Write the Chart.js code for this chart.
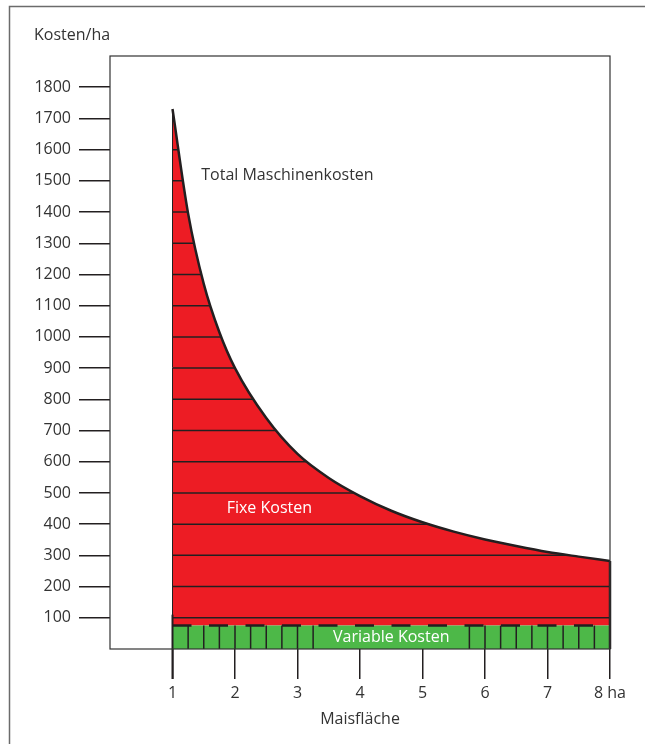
<!DOCTYPE html>
<html>
<head>
<meta charset="utf-8">
<script src="https://cdn.jsdelivr.net/npm/chart.js@4"></script>
<style>
  html, body { margin: 0; padding: 0; background: #fff; }
  #wrap { width: 645px; height: 744px; }
</style>
</head>
<body>
<div id="wrap"><canvas id="costChart" width="645" height="744"></canvas></div>
<script>
// Maisfläche (ha) and total machine costs per ha
const areaHa = [1, 1.25, 1.5, 1.75, 2, 2.5, 3, 3.5, 4, 4.5, 5, 5.5, 6, 6.5, 7, 7.5, 8];
const totalCosts = [1730, 1395, 1170, 1015, 900, 740, 625, 548, 490, 443, 406, 376, 351, 330, 311, 296, 282];

// variable costs band
const variableHa = [1, 8];
const variableCosts = [75, 75];

// axis ticks
const xTickValues = [1, 2, 3, 4, 5, 6, 7, 8];
const xTickLabels = ['1', '2', '3', '4', '5', '6', '7', '8 ha'];
const yTickValues = [100, 200, 300, 400, 500, 600, 700, 800, 900, 1000, 1100, 1200, 1300, 1400, 1500, 1600, 1700, 1800];

const red = '#ed1c24';
const green = '#4db848';
const ink = '#231f20';
const textColor = '#333333';
const fontFamily = '"Open Sans", sans-serif';

document.addEventListener('DOMContentLoaded', function() {

    const decorPlugin = {
        id: 'decor',
        afterDatasetsDraw(chart) {
            const { ctx, chartArea, scales: { x, y } } = chart;
            const xStart = x.getPixelForValue(areaHa[0]);
            const xEnd = x.getPixelForValue(areaHa[areaHa.length - 1]);

            // horizontal lines only where the red area is painted
            ctx.save();
            ctx.globalCompositeOperation = 'source-atop';
            ctx.strokeStyle = ink;
            ctx.lineWidth = 1.5;
            yTickValues.forEach(v => {
                if (v <= variableCosts[0] || v >= totalCosts[0]) return;
                const py = y.getPixelForValue(v);
                ctx.beginPath();
                ctx.moveTo(xStart, py);
                ctx.lineTo(xEnd, py);
                ctx.stroke();
            });
            ctx.restore();

            ctx.save();
            ctx.strokeStyle = ink;

            // left edge of the red area
            ctx.lineWidth = 1;
            ctx.beginPath();
            ctx.moveTo(xStart, y.getPixelForValue(totalCosts[0]));
            ctx.lineTo(xStart, y.getPixelForValue(variableCosts[0]));
            ctx.stroke();

            // tick at 1 reaches into the area
            ctx.lineWidth = 2;
            ctx.beginPath();
            ctx.moveTo(xStart, y.getPixelForValue(110));
            ctx.lineTo(xStart, chartArea.bottom + 30);
            ctx.stroke();

            // right edge of the red area
            ctx.lineWidth = 2.5;
            ctx.beginPath();
            ctx.moveTo(xEnd, y.getPixelForValue(totalCosts[totalCosts.length - 1]));
            ctx.lineTo(xEnd, y.getPixelForValue(0));
            ctx.stroke();

            // dividers in the green band
            ctx.lineWidth = 1.5;
            const y0 = y.getPixelForValue(0);
            const y1 = y.getPixelForValue(variableCosts[0]);
            for (let v = 1.25; v < 8; v += 0.25) {
                if (v > 3.25 && v < 5.75) continue;
                const px = x.getPixelForValue(v);
                ctx.beginPath();
                ctx.moveTo(px, y0);
                ctx.lineTo(px, y1);
                ctx.stroke();
            }

            // labels
            ctx.font = '16px ' + fontFamily;
            ctx.textBaseline = 'middle';
            ctx.textAlign = 'center';
            ctx.fillStyle = '#ffffff';
            ctx.fillText('Variable Kosten', x.getPixelForValue(4.5), y.getPixelForValue(37));
            ctx.fillText('Fixe Kosten', x.getPixelForValue(2.55), y.getPixelForValue(450));

            ctx.fillStyle = textColor;
            ctx.textAlign = 'left';
            ctx.fillText('Total Maschinenkosten', x.getPixelForValue(1.46), y.getPixelForValue(1517));
            ctx.fillText('Kosten/ha', chartArea.left - 76, chartArea.top - 21);
            ctx.restore();
        },
        afterDraw(chart) {
            const { ctx, chartArea } = chart;
            ctx.save();
            // plot box
            ctx.strokeStyle = '#333333';
            ctx.lineWidth = 1.2;
            ctx.strokeRect(chartArea.left, chartArea.top, chartArea.right - chartArea.left, chartArea.bottom - chartArea.top);
            // outer frame (only top and left visible)
            ctx.strokeStyle = '#6b6b6b';
            ctx.lineWidth = 1.5;
            ctx.strokeRect(9.5, 6.5, 1000, 1000);
            ctx.restore();
        }
    };

    const ctx = document.getElementById('costChart').getContext('2d');

    const costChart = new Chart(ctx, {
        type: 'line',
        data: {
            datasets: [
                {
                    label: 'Variable Kosten',
                    data: variableHa.map((h, i) => ({ x: h, y: variableCosts[i] })),
                    backgroundColor: green,
                    borderColor: ink,
                    borderWidth: 2.5,
                    borderDash: [19, 17.5],
                    pointRadius: 0,
                    fill: 'origin'
                },
                {
                    label: 'Total Maschinenkosten',
                    data: areaHa.map((h, i) => ({ x: h, y: totalCosts[i] })),
                    backgroundColor: red,
                    borderColor: ink,
                    borderWidth: 2.5,
                    cubicInterpolationMode: 'monotone',
                    pointRadius: 0,
                    fill: { value: variableCosts[0] }
                }
            ]
        },
        options: {
            responsive: false,
            animation: false,
            layout: {
                padding: { left: 0, top: 56, right: 35, bottom: 0 }
            },
            plugins: {
                legend: { display: false },
                tooltip: { enabled: false }
            },
            scales: {
                x: {
                    type: 'linear',
                    min: 0,
                    max: 8,
                    afterBuildTicks: s => { s.ticks = xTickValues.map(v => ({ value: v })); },
                    afterFit: s => { s.height = 95; },
                    border: { display: false },
                    grid: {
                        drawOnChartArea: false,
                        drawTicks: true,
                        tickLength: 30,
                        color: ink,
                        lineWidth: 1.5
                    },
                    ticks: {
                        padding: 5,
                        maxRotation: 0,
                        autoSkip: false,
                        color: textColor,
                        font: { family: fontFamily, size: 16 },
                        callback: function(value) {
                            const i = xTickValues.indexOf(value);
                            return i >= 0 ? xTickLabels[i] : '';
                        }
                    },
                    title: {
                        display: true,
                        text: 'Maisfläche',
                        color: textColor,
                        font: { family: fontFamily, size: 16 },
                        padding: { top: 0, bottom: 15 }
                    }
                },
                y: {
                    min: 0,
                    max: 1900,
                    afterBuildTicks: s => { s.ticks = yTickValues.map(v => ({ value: v })); },
                    afterFit: s => { s.width = 110; },
                    border: { display: false },
                    grid: {
                        drawOnChartArea: false,
                        drawTicks: true,
                        tickLength: 31,
                        color: ink,
                        lineWidth: 1.5
                    },
                    ticks: {
                        padding: 8,
                        autoSkip: false,
                        color: textColor,
                        font: { family: fontFamily, size: 16 },
                        callback: function(value) {
                            return String(value);
                        }
                    }
                }
            }
        },
        plugins: [decorPlugin]
    });
});
</script>
</body>
</html>
